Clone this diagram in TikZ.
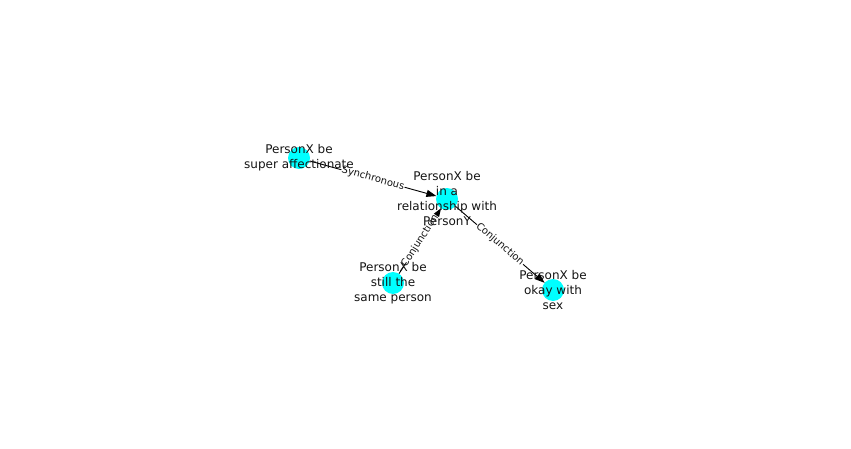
\documentclass[tikz,border=0pt]{standalone}
\usepackage{fontspec}
\setmainfont{DejaVu Sans}
\usetikzlibrary{arrows.meta}
\definecolor{nodecyan}{RGB}{0,255,255}
\definecolor{inkc}{RGB}{20,20,20}
\pgfdeclarelayer{back}
\pgfsetlayers{back,main}
\begin{document}
\begin{tikzpicture}[x=1pt,y=-1pt,
  dot/.style={circle,fill=nodecyan,minimum size=22pt,inner sep=0pt,outer sep=0pt},
  txt/.style={align=center,font=\fontsize{12}{15}\selectfont,inner sep=0pt,text=inkc},
  edge/.style={draw=black,line width=0.9pt,-{Triangle[length=10pt,width=7pt]}},
  elbl/.style={font=\fontsize{10}{12}\selectfont,fill=white,inner sep=0.5pt,sloped,midway,text=inkc}]
\useasboundingbox (0,0) rectangle (851,449);
\node[dot] (a) at (299,158) {};
\node[dot] (b) at (447,199) {};
\node[dot] (c) at (393,283) {};
\node[dot] (d) at (553,290) {};
\begin{pgfonlayer}{back}
\draw[edge] (a) -- node[elbl] (la) {Synchronous} (b);
\draw[edge] (c) -- node[elbl] (lc) {Conjunction} (b);
\draw[edge] (b) -- node[elbl] (ld) {Conjunction} (d);
\end{pgfonlayer}
\node[txt] (ta) at (a) {PersonX be\\super affectionate};
\node[txt] (tb) at (b) {PersonX be\\in a\\relationship with\\PersonY};
\node[txt] (tc) at (c) {PersonX be\\still the\\same person};
\node[txt] (td) at (d) {PersonX be\\okay with\\sex};
\end{tikzpicture}
\end{document}
